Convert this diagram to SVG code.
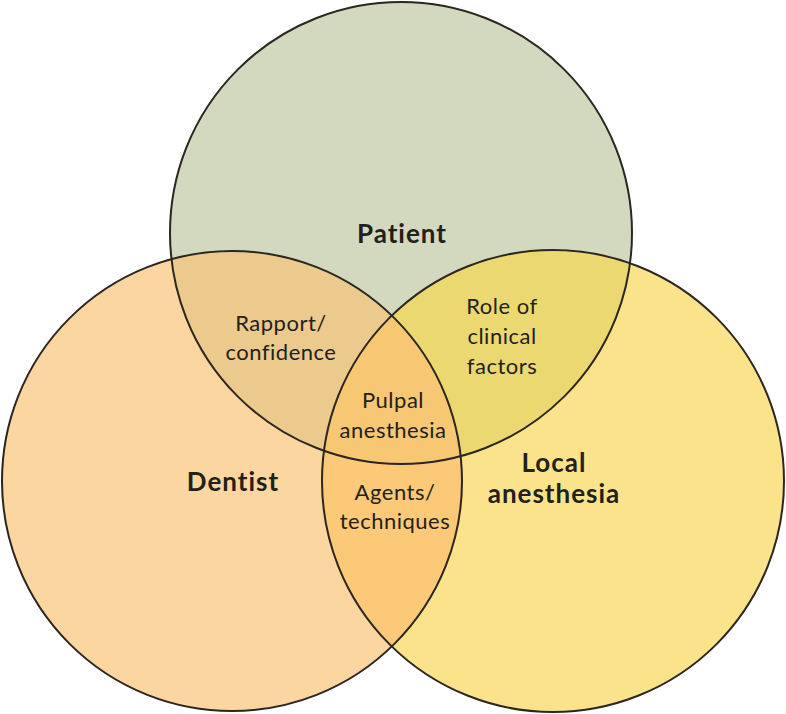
<svg xmlns="http://www.w3.org/2000/svg" width="786" height="714" viewBox="0 0 786 714">
<defs>
<clipPath id="cP"><circle cx="401" cy="233" r="231"/></clipPath>
<clipPath id="cD"><circle cx="232" cy="481" r="230"/></clipPath>
<clipPath id="cL"><circle cx="553" cy="481" r="231"/></clipPath>
<style>
.outline{fill:none;stroke:#2b2620;stroke-width:2}
.t{font-family:Lato,"Noto Sans","Liberation Sans",sans-serif;fill:#231f1a;text-anchor:middle}
.r{font-size:22px;letter-spacing:0.5px}
.b{font-size:26px;font-weight:bold;letter-spacing:1px}
</style>
</defs>
<rect width="786" height="714" fill="#ffffff"/>
<g id="fills">
<circle cx="401" cy="233" r="231" fill="#d2d9bf"/>
<circle cx="232" cy="481" r="230" fill="#fcd6a0"/>
<circle cx="553" cy="481" r="231" fill="#fbe38b"/>
<circle cx="232" cy="481" r="230" fill="#ecca8e" clip-path="url(#cP)"/>
<circle cx="553" cy="481" r="231" fill="#ecd870" clip-path="url(#cP)"/>
<circle cx="553" cy="481" r="231" fill="#fbc978" clip-path="url(#cD)"/>
<g clip-path="url(#cP)"><circle cx="553" cy="481" r="231" fill="#f7c773" clip-path="url(#cD)"/></g>
</g>
<g id="patient">
<circle class="outline" cx="401" cy="233" r="231"/>
<text class="t b" x="402" y="243">Patient</text>
</g>
<g id="dentist">
<circle class="outline" cx="232" cy="481" r="230"/>
<text class="t b" x="233" y="491">Dentist</text>
</g>
<g id="local-anesthesia">
<circle class="outline" cx="553" cy="481" r="231"/>
<text class="t b" x="554" y="472">Local</text>
<text class="t b" x="554" y="503">anesthesia</text>
</g>
<g id="rapport">
<text class="t r" x="281" y="331">Rapport/</text>
<text class="t r" x="281" y="360">confidence</text>
</g>
<g id="role">
<text class="t r" x="502" y="314">Role of</text>
<text class="t r" x="502" y="344">clinical</text>
<text class="t r" x="502" y="374">factors</text>
</g>
<g id="pulpal">
<text class="t r" x="393" y="408">Pulpal</text>
<text class="t r" x="393" y="438">anesthesia</text>
</g>
<g id="agents">
<text class="t r" x="395" y="500">Agents/</text>
<text class="t r" x="395" y="529">techniques</text>
</g>
<g id="connectors"/>
</svg>
